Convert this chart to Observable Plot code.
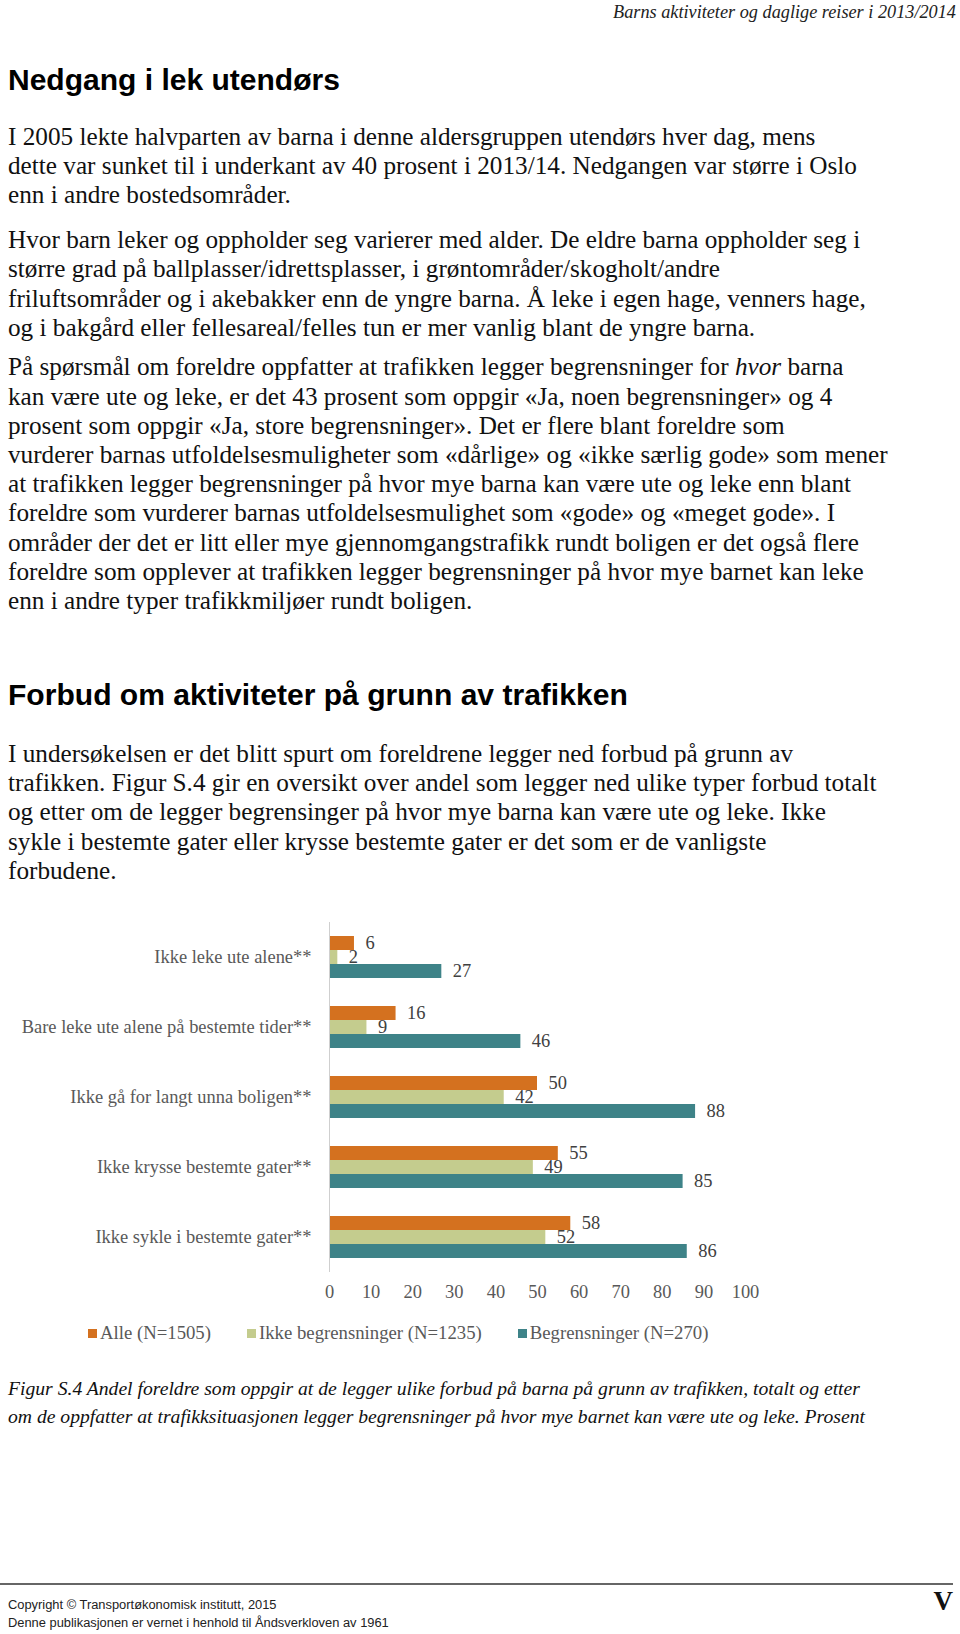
<!DOCTYPE html>
<html><head><meta charset="utf-8">
<script src="https://cdn.jsdelivr.net/npm/d3@7"></script>
<script src="https://cdn.jsdelivr.net/npm/@observablehq/plot@0.6"></script>
<style>
html,body{margin:0;padding:0;background:#fff;}
#page{position:relative;width:960px;height:1634px;overflow:hidden;background:#fff;}
.abs{position:absolute;white-space:nowrap;}
</style></head><body><div id="page"></div>
<script>
// ---- chart data ----
const categories = [
  "Ikke leke ute alene**",
  "Bare leke ute alene på bestemte tider**",
  "Ikke gå for langt unna boligen**",
  "Ikke krysse bestemte gater**",
  "Ikke sykle i bestemte gater**"
];
const seriesNames = ["Alle (N=1505)", "Ikke begrensninger (N=1235)", "Begrensninger (N=270)"];
const valuesAlle = [6, 16, 50, 55, 58];
const valuesIkkeBegr = [2, 9, 42, 49, 52];
const valuesBegr = [27, 46, 88, 85, 86];
const xTickValues = [0, 10, 20, 30, 40, 50, 60, 70, 80, 90, 100];

// ---- page text ----
const headerText = "Barns aktiviteter og daglige reiser i 2013/2014";
const heading1 = "Nedgang i lek utendørs";
const para1 = [
  "I 2005 lekte halvparten av barna i denne aldersgruppen utendørs hver dag, mens",
  "dette var sunket til i underkant av 40 prosent i 2013/14. Nedgangen var større i Oslo",
  "enn i andre bostedsområder."
];
const para2 = [
  "Hvor barn leker og oppholder seg varierer med alder. De eldre barna oppholder seg i",
  "større grad på ballplasser/idrettsplasser, i grøntområder/skogholt/andre",
  "friluftsområder og i akebakker enn de yngre barna. Å leke i egen hage, venners hage,",
  "og i bakgård eller fellesareal/felles tun er mer vanlig blant de yngre barna."
];
const para3 = [
  "På spørsmål om foreldre oppfatter at trafikken legger begrensninger for <i>hvor</i> barna",
  "kan være ute og leke, er det 43 prosent som oppgir «Ja, noen begrensninger» og 4",
  "prosent som oppgir «Ja, store begrensninger». Det er flere blant foreldre som",
  "vurderer barnas utfoldelsesmuligheter som «dårlige» og «ikke særlig gode» som mener",
  "at trafikken legger begrensninger på hvor mye barna kan være ute og leke enn blant",
  "foreldre som vurderer barnas utfoldelsesmulighet som «gode» og «meget gode». I",
  "områder der det er litt eller mye gjennomgangstrafikk rundt boligen er det også flere",
  "foreldre som opplever at trafikken legger begrensninger på hvor mye barnet kan leke",
  "enn i andre typer trafikkmiljøer rundt boligen."
];
const heading2 = "Forbud om aktiviteter på grunn av trafikken";
const para4 = [
  "I undersøkelsen er det blitt spurt om foreldrene legger ned forbud på grunn av",
  "trafikken. Figur S.4 gir en oversikt over andel som legger ned ulike typer forbud totalt",
  "og etter om de legger begrensinger på hvor mye barna kan være ute og leke. Ikke",
  "sykle i bestemte gater eller krysse bestemte gater er det som er de vanligste",
  "forbudene."
];
const captionLines = [
  "Figur S.4 Andel foreldre som oppgir at de legger ulike forbud på barna på grunn av trafikken, totalt og etter",
  "om de oppfatter at trafikksituasjonen legger begrensninger på hvor mye barnet kan være ute og leke. Prosent"
];
const footerLines = [
  "Copyright © Transportøkonomisk institutt, 2015",
  "Denne publikasjonen er vernet i henhold til Åndsverkloven av 1961"
];
const pageNumber = "V";

// ---- styling ----
const seriesColors = ["#D4711F", "#C4CC8E", "#3E8388"];
const SERIF = "'Liberation Serif', 'DejaVu Serif', serif";
const SANS = "'Liberation Sans', Arial, sans-serif";
const NARROW = "'Liberation Sans Narrow', 'Liberation Sans', sans-serif";

const page = document.getElementById("page");
const ctx = document.createElement("canvas").getContext("2d");
function fit(text, family, target, weight = "normal", style = "normal") {
  ctx.font = `${style} ${weight} 100px ${family}`;
  const w = ctx.measureText(text.replace(/<[^>]+>/g, "")).width;
  return 100 * target / w;
}
function block(lines, o) {
  const el = document.createElement("div");
  el.className = "abs";
  const lh = o.lh || o.size * 1.2;
  el.style.fontFamily = o.family;
  el.style.fontSize = o.size + "px";
  el.style.lineHeight = lh + "px";
  el.style.fontWeight = o.weight || "normal";
  el.style.fontStyle = o.style || "normal";
  el.style.color = o.color || "#111";
  el.style.top = (o.cy - lh / 2 - 0.04 * o.size) + "px";
  if (o.right != null) { el.style.right = (960 - o.right) + "px"; el.style.textAlign = "right"; }
  else el.style.left = o.x + "px";
  el.innerHTML = lines.join("<br>");
  page.appendChild(el);
  return el;
}

const bodySize = fit(para1[1], SERIF, 849);
const LH = 29.2;

block([headerText], {right: 956, cy: 13.5, size: fit(headerText, SERIF, 343, "normal", "italic"), family: SERIF, style: "italic", color: "#222"});
block([heading1], {x: 8, cy: 81, size: fit(heading1, SANS, 332, "bold"), family: SANS, weight: "bold", color: "#000"});
block(para1, {x: 8, cy: 137.6, size: bodySize, lh: LH, family: SERIF});
block(para2, {x: 8, cy: 240.8, size: bodySize, lh: LH, family: SERIF});
block(para3, {x: 8, cy: 368, size: bodySize, lh: LH, family: SERIF});
block([heading2], {x: 8, cy: 696, size: fit(heading2, SANS, 620, "bold"), family: SANS, weight: "bold", color: "#000"});
block(para4, {x: 8, cy: 754.6, size: bodySize, lh: LH, family: SERIF});

// ---- chart ----
const chartSize = fit(categories[1], SERIF, 290);
const rows = [];
const seriesValues = [valuesAlle, valuesIkkeBegr, valuesBegr];
categories.forEach((c, i) => seriesNames.forEach((s, k) => rows.push({category: c, series: s, value: seriesValues[k][i]})));

const BAR = 14;
const marks = [];
seriesNames.forEach((s, k) => {
  const data = rows.filter(d => d.series === s);
  marks.push(Plot.barX(data, {x: "value", y: "category", fill: seriesColors[k], insetTop: k * BAR, insetBottom: (2 - k) * BAR}));
  marks.push(Plot.text(data, {x: "value", y: "category", text: d => String(d.value), dx: 11, dy: (k - 1) * BAR, textAnchor: "start", fill: "#404040", fontSize: chartSize}));
});
marks.push(Plot.ruleX([0], {stroke: "#cfcfcf", strokeWidth: 1}));

const chart = Plot.plot({
  width: 960,
  height: 410,
  marginLeft: 329,
  marginRight: 215,
  marginTop: 22,
  marginBottom: 38,
  x: {domain: [0, 100], ticks: xTickValues, tickSize: 0, tickPadding: 12, label: null, tickFormat: d => String(d)},
  y: {domain: categories, paddingInner: 0.4, paddingOuter: 0.2, tickSize: 0, tickPadding: 18, label: null},
  style: {fontFamily: SERIF, fontSize: chartSize + "px", color: "#595959", background: "transparent", overflow: "visible"},
  marks
});
chart.style.position = "absolute";
chart.style.left = "0px";
chart.style.top = "900px";
page.appendChild(chart);

// ---- legend ----
const legendSize = fit(seriesNames[1], SERIF, 223);
const legend = document.createElement("div");
legend.className = "abs";
legend.style.left = "88px";
legend.style.top = (1333 - 12) + "px";
legend.style.height = "24px";
legend.style.display = "flex";
legend.style.alignItems = "center";
legend.style.gap = "36px";
legend.style.fontFamily = SERIF;
legend.style.fontSize = legendSize + "px";
legend.style.color = "#595959";
seriesNames.forEach((s, k) => {
  const item = document.createElement("div");
  item.style.display = "flex";
  item.style.alignItems = "center";
  const sw = document.createElement("span");
  sw.style.display = "inline-block";
  sw.style.width = "9px";
  sw.style.height = "9px";
  sw.style.background = seriesColors[k];
  sw.style.marginRight = "3px";
  item.appendChild(sw);
  const t = document.createElement("span");
  t.textContent = s;
  item.appendChild(t);
  legend.appendChild(item);
});
page.appendChild(legend);

// ---- caption ----
const capSize = fit(captionLines[0], SERIF, 853, "normal", "italic");
block(captionLines, {x: 8, cy: 1390, size: capSize, lh: 27.5, family: SERIF, style: "italic", color: "#111"});

// ---- footer ----
const rule = document.createElement("div");
rule.className = "abs";
rule.style.left = "0px"; rule.style.top = "1583px"; rule.style.width = "953px"; rule.style.height = "2px"; rule.style.background = "#666";
page.appendChild(rule);
const footSize = fit(footerLines[1], NARROW, 381);
block(footerLines, {x: 8, cy: 1606, size: footSize, lh: 18, family: NARROW, color: "#222"});
block([pageNumber], {right: 953, cy: 1602, size: 27, family: SERIF, weight: "bold", color: "#111"});
</script>
</body></html>
